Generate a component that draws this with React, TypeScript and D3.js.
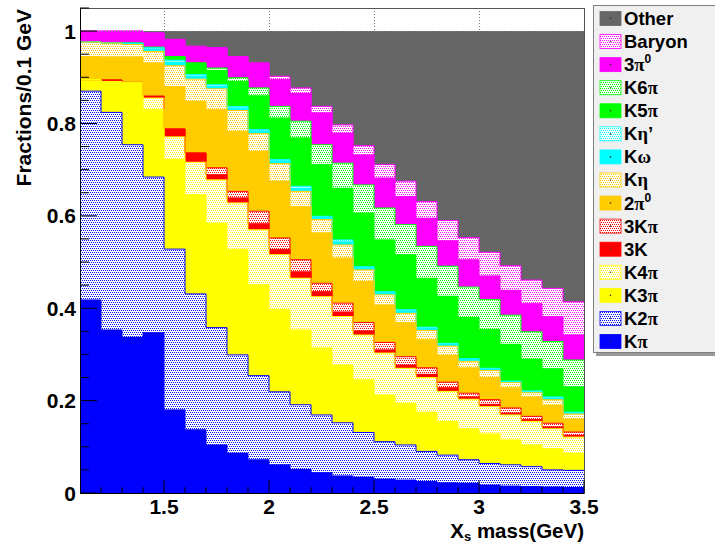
import React from "react";
import * as d3 from "d3";

// ---------- data (fractions per 0.1 GeV bin) ----------
const binLow = [1.1, 1.2, 1.3, 1.4, 1.5, 1.6, 1.7, 1.8, 1.9, 2.0, 2.1, 2.2, 2.3, 2.4, 2.5, 2.6, 2.7, 2.8, 2.9, 3.0, 3.1, 3.2, 3.3, 3.4];
const binWidth = 0.1;

const Kpi = [0.418, 0.353, 0.337, 0.347, 0.180, 0.137, 0.104, 0.086, 0.072, 0.061, 0.051, 0.044, 0.037, 0.034, 0.030, 0.028, 0.025, 0.022, 0.021, 0.017, 0.015, 0.014, 0.013, 0.012];
const K2pi = [0.452, 0.471, 0.417, 0.337, 0.348, 0.294, 0.254, 0.213, 0.182, 0.158, 0.140, 0.125, 0.115, 0.097, 0.081, 0.076, 0.065, 0.060, 0.051, 0.047, 0.046, 0.043, 0.037, 0.037];
const K3pi = [0.025, 0.067, 0.135, 0.146, 0.194, 0.215, 0.226, 0.228, 0.197, 0.178, 0.162, 0.145, 0.125, 0.114, 0.101, 0.090, 0.085, 0.073, 0.067, 0.064, 0.054, 0.047, 0.046, 0.037];
const K4pi = [0, 0, 0, 0.025, 0.049, 0.070, 0.094, 0.101, 0.119, 0.119, 0.112, 0.111, 0.105, 0.097, 0.091, 0.076, 0.075, 0.065, 0.064, 0.059, 0.054, 0.051, 0.043, 0.035];
const K3 = [0, 0.003, 0, 0.004, 0.017, 0.020, 0.011, 0.011, 0.013, 0.011, 0.014, 0.011, 0.010, 0.009, 0.007, 0.007, 0.007, 0.008, 0.005, 0.005, 0.004, 0.004, 0.004, 0.004];
const K3Kpi = [0, 0, 0, 0, 0, 0, 0.015, 0.014, 0.027, 0.025, 0.026, 0.018, 0.019, 0.018, 0.016, 0.018, 0.014, 0.012, 0.008, 0.010, 0.011, 0.007, 0.008, 0.007];
const TwoPi0 = [0.050, 0.050, 0.055, 0.072, 0.092, 0.112, 0.126, 0.130, 0.130, 0.123, 0.115, 0.109, 0.098, 0.089, 0.081, 0.074, 0.061, 0.058, 0.055, 0.048, 0.044, 0.042, 0.039, 0.028];
const Keta = [0.031, 0.030, 0.027, 0.025, 0.045, 0.048, 0.045, 0.045, 0.038, 0.038, 0.033, 0.029, 0.028, 0.025, 0.022, 0.020, 0.020, 0.020, 0.014, 0.015, 0.011, 0.009, 0.012, 0.011];
const Komega = [0, 0, 0.002, 0.005, 0.008, 0.007, 0.006, 0.006, 0.006, 0.006, 0.007, 0.005, 0.007, 0.005, 0.005, 0.005, 0.005, 0.004, 0.004, 0.003, 0.002, 0.002, 0.004, 0.003];
const Ketap = [0, 0, 0.001, 0.003, 0.004, 0.003, 0.003, 0.003, 0.003, 0.003, 0.004, 0.002, 0.004, 0.002, 0.002, 0.003, 0.002, 0.002, 0.002, 0.002, 0.001, 0.002, 0.002, 0.001];
const K5pi = [0, 0, 0, 0.001, 0.008, 0.025, 0.031, 0.054, 0.073, 0.090, 0.105, 0.112, 0.112, 0.116, 0.112, 0.119, 0.106, 0.102, 0.089, 0.084, 0.080, 0.069, 0.061, 0.055];
const K6pi = [0, 0, 0, 0, 0, 0, 0.005, 0.008, 0.017, 0.025, 0.036, 0.043, 0.054, 0.061, 0.069, 0.065, 0.069, 0.065, 0.066, 0.065, 0.063, 0.059, 0.059, 0.058];
const ThreePi0 = [0.024, 0.026, 0.026, 0.031, 0.037, 0.036, 0.044, 0.046, 0.054, 0.058, 0.060, 0.069, 0.065, 0.065, 0.065, 0.061, 0.061, 0.055, 0.059, 0.051, 0.054, 0.061, 0.054, 0.054];
const Baryon = [0, 0, 0, 0, 0, 0, 0, 0, 0, 0.007, 0.012, 0.014, 0.018, 0.020, 0.029, 0.033, 0.036, 0.044, 0.048, 0.051, 0.053, 0.051, 0.061, 0.072];
const Other = [0, 0, 0, 0.004, 0.018, 0.033, 0.036, 0.055, 0.069, 0.098, 0.123, 0.163, 0.203, 0.248, 0.289, 0.325, 0.369, 0.410, 0.447, 0.479, 0.508, 0.539, 0.557, 0.586];

const xTickValues = [1.5, 2, 2.5, 3, 3.5];
const xTickLabels = ["1.5", "2", "2.5", "3", "3.5"];
const yTickValues = [0, 0.2, 0.4, 0.6, 0.8, 1];
const yTickLabels = ["0", "0.2", "0.4", "0.6", "0.8", "1"];

// layer definitions, bottom -> top
type Part = { t: string; greek?: boolean; sup?: boolean };
type Layer = { key: string; values: number[]; color: string; pattern: boolean; label: Part[] };
const layers: Layer[] = [
  { key: "Kpi", values: Kpi, color: "#0000ff", pattern: false, label: [{ t: "K" }, { t: "π", greek: true }] },
  { key: "K2pi", values: K2pi, color: "#0000ff", pattern: true, label: [{ t: "K2" }, { t: "π", greek: true }] },
  { key: "K3pi", values: K3pi, color: "#ffff00", pattern: false, label: [{ t: "K3" }, { t: "π", greek: true }] },
  { key: "K4pi", values: K4pi, color: "#ffff00", pattern: true, label: [{ t: "K4" }, { t: "π", greek: true }] },
  { key: "K3", values: K3, color: "#ff0000", pattern: false, label: [{ t: "3K" }] },
  { key: "K3Kpi", values: K3Kpi, color: "#ff0000", pattern: true, label: [{ t: "3K" }, { t: "π", greek: true }] },
  { key: "TwoPi0", values: TwoPi0, color: "#ffcc00", pattern: false, label: [{ t: "2" }, { t: "π", greek: true }, { t: "0", sup: true }] },
  { key: "Keta", values: Keta, color: "#ffcc00", pattern: true, label: [{ t: "K" }, { t: "η", greek: true }] },
  { key: "Komega", values: Komega, color: "#00ffff", pattern: false, label: [{ t: "K" }, { t: "ω", greek: true }] },
  { key: "Ketap", values: Ketap, color: "#00ffff", pattern: true, label: [{ t: "K" }, { t: "η", greek: true }, { t: "’" }] },
  { key: "K5pi", values: K5pi, color: "#00ff00", pattern: false, label: [{ t: "K5" }, { t: "π", greek: true }] },
  { key: "K6pi", values: K6pi, color: "#00ff00", pattern: true, label: [{ t: "K6" }, { t: "π", greek: true }] },
  { key: "ThreePi0", values: ThreePi0, color: "#ff00ff", pattern: false, label: [{ t: "3" }, { t: "π", greek: true }, { t: "0", sup: true }] },
  { key: "Baryon", values: Baryon, color: "#ff00ff", pattern: true, label: [{ t: "Baryon" }] },
  { key: "Other", values: Other, color: "#666666", pattern: false, label: [{ t: "Other" }] },
];

const W = 715;
const H = 544;
const M = { left: 80, right: 584, top: 8, bottom: 493 };
const FONT = "'Liberation Sans', Arial, Helvetica, sans-serif";
const GREEK = "'Liberation Serif', 'DejaVu Serif', serif";

export default function App() {
  const x = d3.scaleLinear().domain([1.1, 3.5]).range([M.left, M.right]);
  const y = d3.scaleLinear().domain([0, 1.05]).range([M.bottom, M.top]);

  const rows = binLow.map((b, i) => {
    const r: Record<string, number> = { bin: b };
    layers.forEach((l) => (r[l.key] = l.values[i]));
    return r;
  });
  const stacked = d3.stack<Record<string, number>>().keys(layers.map((l) => l.key))(rows);

  const series = stacked.map((s) =>
    s.flatMap((d) => [
      { x: d.data.bin, lo: d[0], hi: d[1] },
      { x: d.data.bin + binWidth, lo: d[0], hi: d[1] },
    ])
  );
  type P = { x: number; lo: number; hi: number };
  const area = d3.area<P>().x((p) => x(p.x)).y0((p) => y(p.lo)).y1((p) => y(p.hi));
  const line = d3.line<P>().x((p) => x(p.x)).y((p) => y(p.hi));

  const minorX = d3.range(1.2, 3.45, 0.1).filter((v) => !xTickValues.some((t) => Math.abs(t - v) < 1e-6));
  const minorY = d3.range(0.05, 1.051, 0.05).filter((v) => !yTickValues.some((t) => Math.abs(t - v) < 1e-6));

  const renderLabel = (parts: Part[]) =>
    parts.map((p, i) =>
      p.sup ? (
        <tspan key={i} fontSize={12} dy={-8}>{p.t}</tspan>
      ) : p.greek ? (
        <tspan key={i} fontFamily={GREEK} dy={i > 0 && parts[i - 1].sup ? 8 : 0}>{p.t}</tspan>
      ) : (
        <tspan key={i} dy={i > 0 && parts[i - 1].sup ? 8 : 0}>{p.t}</tspan>
      )
    );

  const legendOrder = [...layers].reverse();
  const legendY0 = 18.5;
  const legendDy = 23.07;

  return (
    <svg width={W} height={H} style={{ display: "block", position: "absolute", left: 0, top: 0 }} fontFamily={FONT}>
      <defs>
        {layers.filter((l) => l.pattern).map((l) => (
          <pattern key={l.key} id={`pat-${l.key}`} patternUnits="userSpaceOnUse" width={6} height={4}>
            <rect width={6} height={4} fill="#ffffff" />
            <rect x={0} y={0} width={1} height={1} fill={l.color} />
            <rect x={2} y={0} width={1} height={1} fill={l.color} />
            <rect x={4} y={0} width={1} height={1} fill={l.color} />
            <rect x={1} y={2} width={1} height={1} fill={l.color} />
            <rect x={3} y={2} width={1} height={1} fill={l.color} />
            <rect x={5} y={2} width={1} height={1} fill={l.color} />
          </pattern>
        ))}
      </defs>
      <rect width={W} height={H} fill="#ffffff" />

      {/* grid */}
      <g stroke="#777" strokeDasharray="1 2" strokeWidth={1}>
        {xTickValues.slice(0, 4).map((v) => (
          <line key={v} x1={Math.round(x(v)) + 0.5} x2={Math.round(x(v)) + 0.5} y1={M.top} y2={M.bottom} />
        ))}
      </g>

      {/* stacked fills */}
      <g shapeRendering="crispEdges">
        {series.map((pts, i) => (
          <path
            key={layers[i].key}
            d={area(pts) || ""}
            fill={layers[i].pattern ? `url(#pat-${layers[i].key})` : layers[i].color}
            stroke="none"
          />
        ))}
      </g>
      {/* outlines, top layer first */}
      <g fill="none" strokeWidth={1}>
        {series
          .map((pts, i) => ({ pts, i }))
          .reverse()
          .filter(({ i }) => layers[i].key !== "Other")
          .map(({ pts, i }) => (
            <path key={layers[i].key} d={line(pts) || ""} stroke={layers[i].color} />
          ))}
      </g>
      <line x1={M.left} x2={M.right} y1={Math.round(y(1)) + 0.5} y2={Math.round(y(1)) + 0.5} stroke="#888" strokeDasharray="1 2" />

      {/* frame */}
      <rect x={M.left + 0.5} y={M.top + 0.5} width={M.right - M.left} height={M.bottom - M.top} fill="none" stroke="#555" />
      <line x1={M.left + 0.5} x2={M.left + 0.5} y1={M.top} y2={M.bottom} stroke="#000" />
      <line x1={M.left} x2={M.right} y1={M.bottom + 0.5} y2={M.bottom + 0.5} stroke="#000" />

      {/* ticks */}
      <g stroke="#000" strokeWidth={1}>
        {xTickValues.map((v) => (
          <line key={`xM${v}`} x1={x(v)} x2={x(v)} y1={M.bottom} y2={M.bottom - 13} />
        ))}
        {minorX.map((v) => (
          <line key={`xm${v}`} x1={x(v)} x2={x(v)} y1={M.bottom} y2={M.bottom - 6} />
        ))}
        {yTickValues.map((v) => (
          <line key={`yM${v}`} x1={M.left} x2={M.left + 17} y1={y(v)} y2={y(v)} />
        ))}
        {minorY.map((v) => (
          <line key={`ym${v}`} x1={M.left} x2={M.left + 9} y1={y(v)} y2={y(v)} />
        ))}
      </g>

      {/* tick labels */}
      <g fontSize={21} fontWeight="bold" fill="#000">
        {xTickValues.map((v, i) => (
          <text key={v} x={x(v)} y={514} textAnchor="middle">{xTickLabels[i]}</text>
        ))}
        {yTickValues.map((v, i) => (
          <text key={v} x={76} y={y(v) + 7.5} textAnchor="end">{yTickLabels[i]}</text>
        ))}
      </g>

      {/* axis titles */}
      <text x={584} y={538} textAnchor="end" fontSize={20.5} fontWeight="bold">
        X<tspan fontSize={13} dy={3}>s</tspan>
        <tspan dy={-3}> mass(GeV)</tspan>
      </text>
      <text transform="translate(31,9) rotate(-90)" textAnchor="end" fontSize={21} fontWeight="bold">
        Fractions/0.1 GeV
      </text>

      {/* legend */}
      <rect x={596} y={8} width={130} height={348} fill="#9a9a9a" />
      <rect x={593.5} y={5.5} width={130} height={347} fill="#f0f0f0" stroke="#808080" />
      {legendOrder.map((l, k) => {
        const cy = legendY0 + k * legendDy;
        return (
          <g key={l.key}>
            <rect
              x={600}
              y={cy - 7}
              width={21}
              height={14}
              fill={l.pattern ? `url(#pat-${l.key})` : l.color}
              stroke={l.color}
              strokeWidth={0.8}
            />
            <circle cx={610.5} cy={cy} r={0.8} fill="#333" />
            <text x={624} y={cy + 6.5} fontSize={18.5} fontWeight="bold" fill="#000">
              {renderLabel(l.label)}
            </text>
          </g>
        );
      })}
    </svg>
  );
}
